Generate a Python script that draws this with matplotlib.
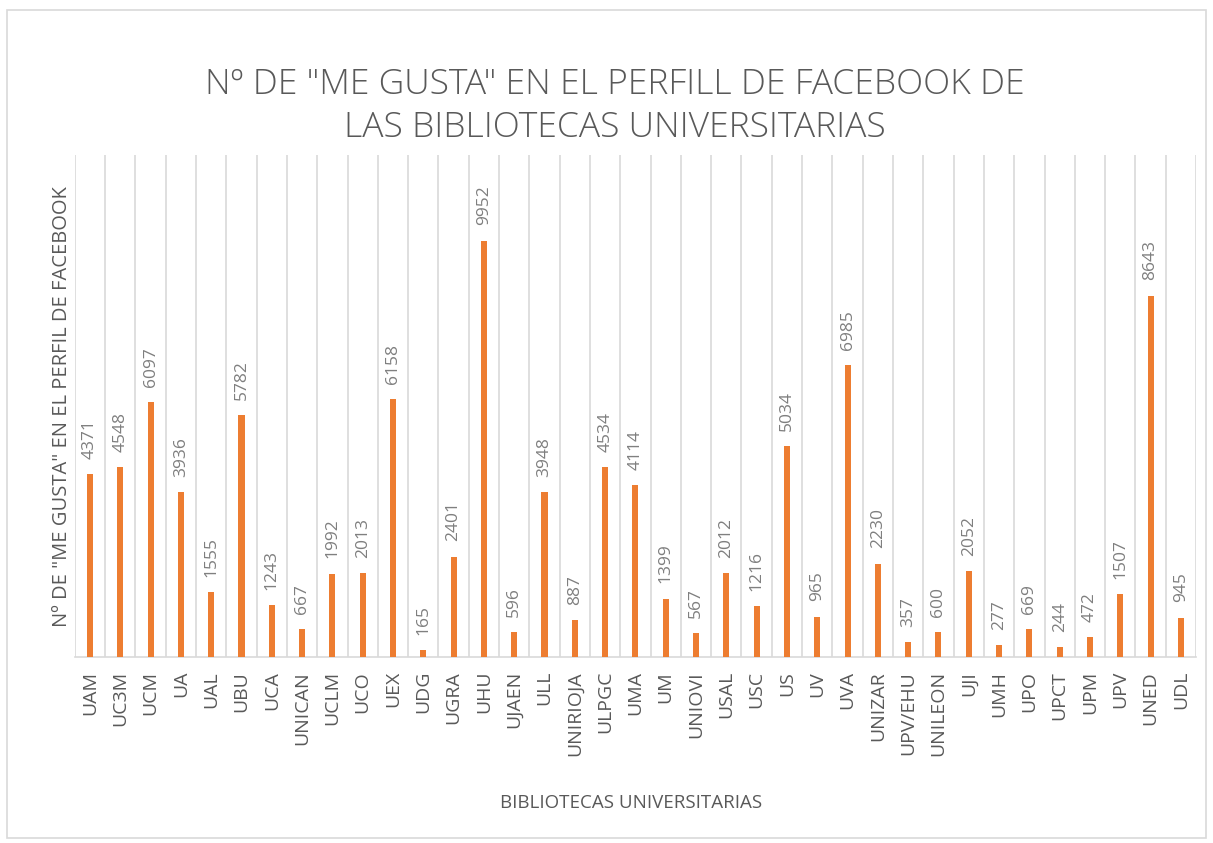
import matplotlib.pyplot as plt
from matplotlib.patches import Rectangle

# =====================================================
# Data
# =====================================================

universidades = [
    "UAM", "UC3M", "UCM", "UA", "UAL", "UBU", "UCA", "UNICAN", "UCLM",
    "UCO", "UEX", "UDG", "UGRA", "UHU", "UJAEN", "ULL", "UNIRIOJA",
    "ULPGC", "UMA", "UM", "UNIOVI", "USAL", "USC", "US", "UV", "UVA",
    "UNIZAR", "UPV/EHU", "UNILEON", "UJI", "UMH", "UPO", "UPCT", "UPM",
    "UPV", "UNED", "UDL",
]

me_gusta = [
    4371, 4548, 6097, 3936, 1555, 5782, 1243, 667, 1992,
    2013, 6158, 165, 2401, 9952, 596, 3948, 887,
    4534, 4114, 1399, 567, 2012, 1216, 5034, 965, 6985,
    2230, 357, 600, 2052, 277, 669, 244, 472,
    1507, 8643, 945,
]

titulo = 'Nº DE "ME GUSTA" EN EL PERFILL DE FACEBOOK DE\nLAS BIBLIOTECAS UNIVERSITARIAS'
eje_y = 'Nº DE "ME GUSTA" EN EL PERFIL DE FACEBOOK'
eje_x = "BIBLIOTECAS UNIVERSITARIAS"

# =====================================================
# Style
# =====================================================

naranja = "#ED7D31"
gris_texto = "#595959"
gris_valor = "#7F7F7F"
gris_linea = "#D9D9D9"

plt.rcParams["font.family"] = ["Open Sans", "DejaVu Sans"]

fig = plt.figure(figsize=(12.13, 8.43), dpi=100)
ax = fig.add_axes([0.0617, 0.2206, 0.9243, 0.5954])

# outer chart border
fig.patches.append(Rectangle((0.006, 0.006), 0.988, 0.982,
                             transform=fig.transFigure, fill=False,
                             edgecolor=gris_linea, linewidth=1.2))

# =====================================================
# Bars
# =====================================================

x = list(range(len(universidades)))
ax.bar(x, me_gusta, width=0.2, color=naranja, zorder=3)

for xi, v in zip(x, me_gusta):
    ax.annotate(str(v), (xi, v), xytext=(0, 11), textcoords="offset points",
                rotation=90, ha="center", va="bottom",
                fontsize=12.5, color=gris_valor)

ax.set_xlim(-0.5, len(universidades) - 0.5)
ax.set_ylim(0, 12000)

# vertical gridlines between categories
ax.set_xticks([i - 0.5 for i in range(len(universidades) + 1)], minor=True)
ax.grid(which="minor", axis="x", color=gris_linea, linewidth=1.2, zorder=0)
ax.set_xticks(x)
ax.set_xticklabels(universidades, rotation=90, fontsize=14, color=gris_texto)
ax.tick_params(axis="x", which="both", length=0, pad=10)
ax.set_yticks([])

for lado in ["top", "right", "left"]:
    ax.spines[lado].set_visible(False)
ax.spines["bottom"].set_color(gris_linea)
ax.spines["bottom"].set_linewidth(1.2)

ax.set_ylabel(eje_y, fontsize=14.5, color=gris_texto, labelpad=2)
fig.text(0.52, 0.048, eje_x, ha="center", va="center",
         fontsize=13.5, color=gris_texto)

fig.text(0.507, 0.874, titulo, ha="center", va="center", fontsize=25.5,
         fontweight="light", color=gris_texto, linespacing=1.35)

plt.savefig("out.png", dpi=100)
plt.close()
